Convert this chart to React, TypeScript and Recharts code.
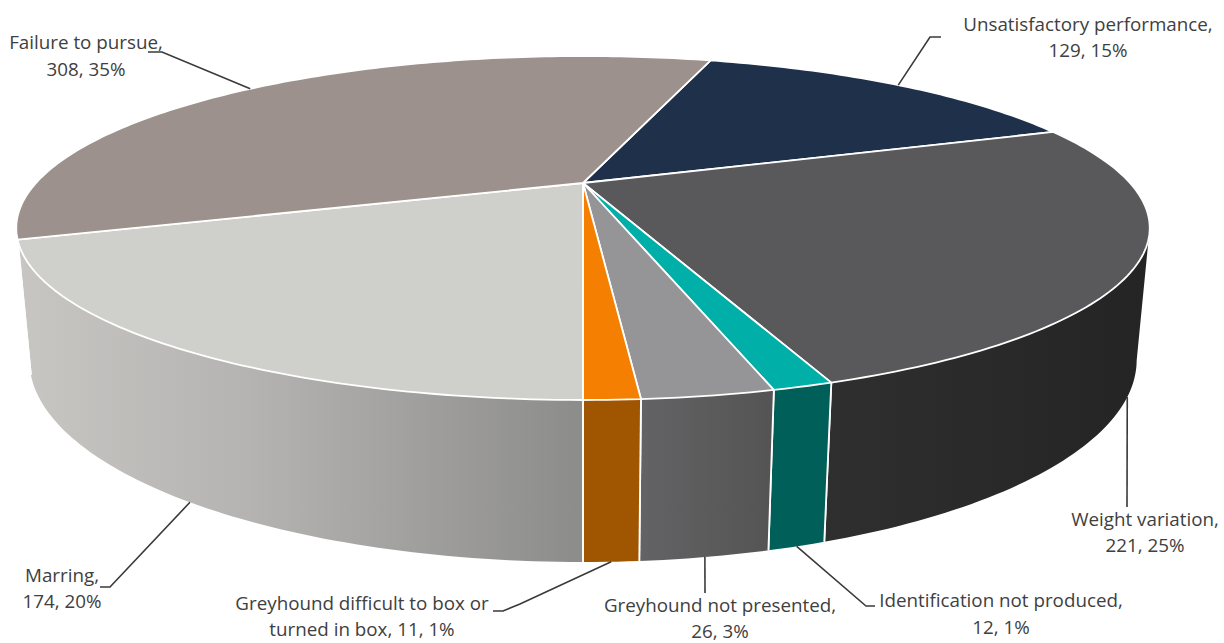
import { Pie, PieChart } from "recharts";

const CATEGORIES = [
  "Unsatisfactory performance",
  "Weight variation",
  "Identification not produced",
  "Greyhound not presented",
  "Greyhound difficult to box or turned in box",
  "Marring",
  "Failure to pursue",
];
const COUNTS = [129, 221, 12, 26, 11, 174, 308];
const PERCENTS = [15, 25, 1, 3, 1, 20, 35];

const TOP_COLORS = ["#1f304a", "#59595b", "#00b0a8", "#959597", "#f57f00", "#cfd0cb", "#9c918c"];
const WALL_COLORS = [
  "#1f304a",
  "url(#wallWeight)",
  "#005f58",
  "url(#wallPresented)",
  "#a05600",
  "url(#wallMarring)",
  "#c6c5c1",
];

// Label layout: centre x, the two baselines, the wrapped first line and the leader's outer points.
const LABELS = [
  { x: 1088, y: [31, 57], first: "Unsatisfactory performance,", rest: "", leader: [[930, 37], [941, 37]] },
  { x: 1145, y: [526, 552], first: "Weight variation,", rest: "", leader: [[1127, 507]] },
  { x: 1001, y: [607, 634], first: "Identification not produced,", rest: "", leader: [[866, 606], [875, 606]] },
  { x: 720, y: [612, 638], first: "Greyhound not presented,", rest: "", leader: [[705, 593]] },
  { x: 362, y: [610, 636], first: "Greyhound difficult to box or", rest: "turned in box, ", leader: [[520, 604], [503, 611], [493, 611]] },
  { x: 62, y: [582, 608], first: "Marring,", rest: "", leader: [[110, 587], [100, 587]] },
  { x: 86, y: [49, 76], first: "Failure to pursue,", rest: "", leader: [[162, 52], [148, 52]] },
];

const rows = CATEGORIES.map((name, i) => ({ name, value: COUNTS[i], fill: TOP_COLORS[i] }));

const CX = 583;
const CY = 183;
const RADIUS = 547;

// Tilted-disc perspective: the near edge is larger, the lower face sits further from the eye.
const TILT = -0.2616;
const SQUASH = 0.2929;
const DROP = 128;
const LOWER_FACE = 0.022;

document.body.style.margin = "0";

function project(angle: number, lower = false) {
  const rad = (angle * Math.PI) / 180;
  const u = Math.cos(rad);
  const v = -Math.sin(rad);
  const w = 1 + TILT * v + (lower ? LOWER_FACE : 0);
  return [CX + (RADIUS * u) / w, CY + (RADIUS * SQUASH * v + (lower ? DROP : 0)) / w];
}

function arcPoints(from: number, to: number, lower = false) {
  const steps = Math.max(1, Math.ceil(Math.abs(from - to)));
  return Array.from({ length: steps + 1 }, (_, i) => project(from + ((to - from) * i) / steps, lower));
}

const toPath = (points: number[][]) =>
  points.map((p, i) => `${i ? "L" : "M"}${p[0].toFixed(2)},${p[1].toFixed(2)}`).join("");

function TopSector(props: any) {
  const d = `M${CX},${CY}${toPath(arcPoints(props.startAngle, props.endAngle)).replace("M", "L")}Z`;
  return <path d={d} fill={props.fill} stroke="#fff" strokeWidth={1.8} strokeLinejoin="round" />;
}

// Only the part of the rim facing the viewer is drawn.
const FRONT_START = -15;
const FRONT_END = -165;

function WallSector(props: any) {
  const from = Math.min(props.startAngle, FRONT_START);
  const to = Math.max(props.endAngle, FRONT_END);
  if (from <= to) return null;
  const upper = arcPoints(from, to);
  const lower = arcPoints(from, to, true).reverse();
  const edges = [];
  if (from === props.startAngle) edges.push(from);
  if (to === props.endAngle) edges.push(to);
  return (
    <g>
      <path d={`${toPath(upper)}${toPath(lower).replace("M", "L")}Z`} fill={props.fill} />
      {edges.map((a) => (
        <path key={a} d={toPath([project(a), project(a, true)])} stroke="#fff" strokeWidth={1.8} fill="none" />
      ))}
    </g>
  );
}

function renderLabel(props: any) {
  const { index, midAngle } = props;
  const layout = LABELS[index];
  // Back slices anchor on the top edge, front slices on the bottom edge.
  const isFront = midAngle < 0 && midAngle > -180;
  const start = project(midAngle, isFront);
  const stats = `${COUNTS[index]}, ${PERCENTS[index]}%`;
  return (
    <g key={index}>
      <path d={toPath([start, ...layout.leader])} fill="none" stroke="#3a3a3a" strokeWidth={1.6} />
      <text x={layout.x} y={layout.y[0]} textAnchor="middle" fontFamily="Open Sans" fontSize={18.8} fill="#404040">
        {layout.first}
      </text>
      <text x={layout.x} y={layout.y[1]} textAnchor="middle" fontFamily="Open Sans" fontSize={18.8} fill="#404040">
        {layout.rest + stats}
      </text>
    </g>
  );
}

export default function App() {
  return (
    <div style={{ width: 1224, height: 643, background: "#fff" }}>
      <PieChart width={1224} height={643} margin={{ top: 0, right: 0, bottom: 0, left: 0 }}>
        <defs>
          <linearGradient id="wallMarring" x1="0" y1="0" x2="1" y2="0">
            <stop offset="0" stopColor="#c7c6c3" />
            <stop offset="0.4" stopColor="#b5b4b2" />
            <stop offset="1" stopColor="#8c8c8b" />
          </linearGradient>
          <linearGradient id="wallPresented" x1="0" y1="0" x2="1" y2="0">
            <stop offset="0" stopColor="#636365" />
            <stop offset="1" stopColor="#545454" />
          </linearGradient>
          <linearGradient id="wallWeight" x1="0" y1="0" x2="1" y2="0">
            <stop offset="0" stopColor="#2f2f2f" />
            <stop offset="1" stopColor="#232423" />
          </linearGradient>
        </defs>
        <Pie
          data={rows.map((row, i) => ({ ...row, fill: WALL_COLORS[i] }))}
          dataKey="value"
          cx={CX}
          cy={CY}
          outerRadius={RADIUS}
          startAngle={73.04}
          endAngle={-286.96}
          shape={WallSector}
          isAnimationActive={false}
        />
        <Pie
          data={rows}
          dataKey="value"
          cx={CX}
          cy={CY}
          outerRadius={RADIUS}
          startAngle={73.04}
          endAngle={-286.96}
          shape={TopSector}
          label={renderLabel}
          labelLine={false}
          isAnimationActive={false}
        />
      </PieChart>
    </div>
  );
}
